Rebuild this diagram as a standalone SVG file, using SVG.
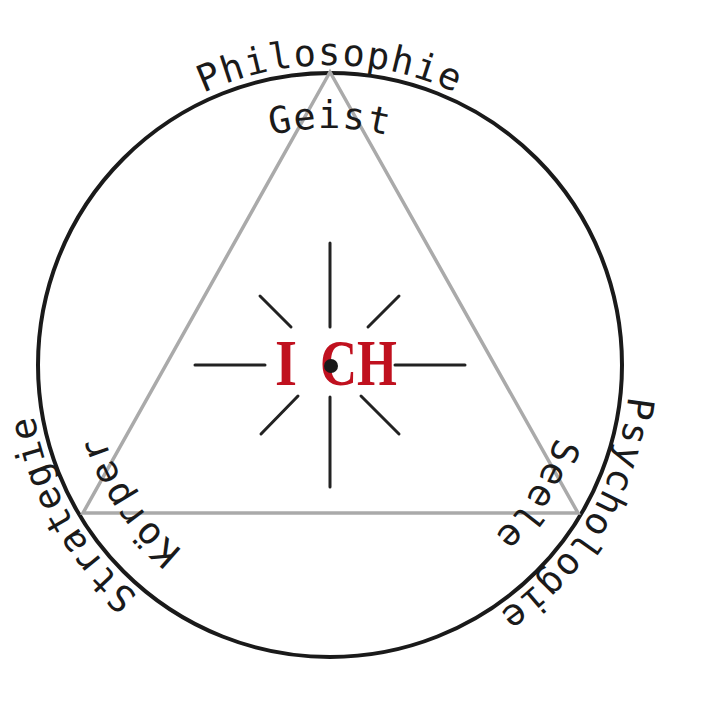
<svg xmlns="http://www.w3.org/2000/svg" width="720" height="720" viewBox="0 0 720 720">
<style>
.lbl{font-family:"DejaVu Sans Mono","Liberation Mono",monospace;font-size:37px;letter-spacing:1.5px;fill:#1a1a1a;text-anchor:middle}
.ray{stroke:#222;stroke-width:3;stroke-linecap:round}
.ich{font-family:"Liberation Serif",serif;font-weight:bold;font-size:66px;fill:#c0111f}
</style>
<defs>
<path id="outer" d="M630,365 A300,300 0 1 1 30,365 A300,300 0 1 1 630,365"/>
<path id="inner" d="M567,365 A237,237 0 1 1 93,365 A237,237 0 1 1 567,365"/>
</defs>
<rect width="720" height="720" fill="#fff"/>
<g id="circle"><circle cx="330" cy="365" r="292" fill="none" stroke="#1a1a1a" stroke-width="4"/></g>
<g id="triangle"><polygon points="330,72 83,513 578,513" fill="none" stroke="#aaa" stroke-width="3.5"/></g>
<g id="rays">
<line class="ray" x1="330" y1="243" x2="330" y2="327"/>
<line class="ray" x1="330" y1="397" x2="330" y2="487"/>
<line class="ray" x1="195" y1="365" x2="265" y2="365"/>
<line class="ray" x1="395" y1="365" x2="465" y2="365"/>
<line class="ray" x1="260" y1="296" x2="291" y2="327"/>
<line class="ray" x1="368" y1="327" x2="399" y2="296"/>
<line class="ray" x1="298" y1="396" x2="261" y2="434"/>
<line class="ray" x1="361" y1="396" x2="399" y2="434"/>
</g>
<g id="ich">
<text class="ich" x="275" y="385" textLength="22" lengthAdjust="spacingAndGlyphs">I</text>
<text class="ich" x="320" y="385" textLength="77" lengthAdjust="spacingAndGlyphs">CH</text>
<circle cx="331" cy="366" r="7" fill="#1a1a1a"/>
</g>
<g id="philosophie"><text class="lbl"><textPath href="#outer" startOffset="75%">Philosophie</textPath></text></g>
<g id="strategie"><text class="lbl"><textPath href="#outer" startOffset="41.7%">Strategie</textPath></text></g>
<g id="psychologie"><text class="lbl"><textPath href="#outer" startOffset="8.6%">Psychologie</textPath></text></g>
<g id="geist"><text class="lbl"><textPath href="#inner" startOffset="75%">Geist</textPath></text></g>
<g id="koerper"><text class="lbl"><textPath href="#inner" startOffset="40.5%">Körper</textPath></text></g>
<g id="seele"><text class="lbl"><textPath href="#inner" startOffset="8.9%">Seele</textPath></text></g>
</svg>
